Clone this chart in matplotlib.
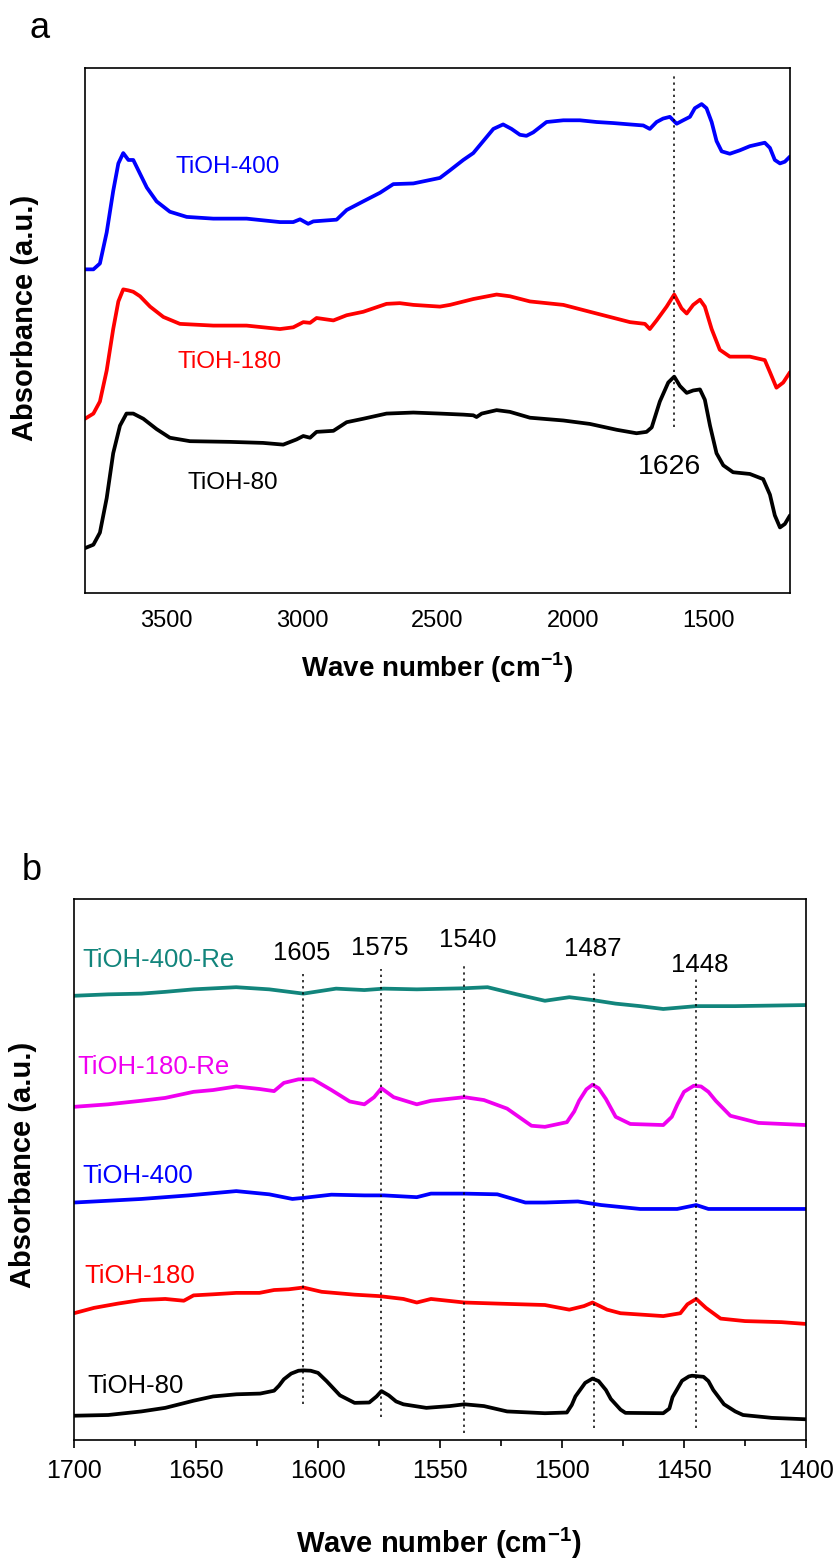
import numpy as np
import matplotlib
matplotlib.use("Agg")
import matplotlib.pyplot as plt
from matplotlib.ticker import MultipleLocator

plt.rcParams['font.family'] = ['Liberation Sans', 'DejaVu Sans']

W, H = 836, 1562

# ---------------- Panel a data (wave number, absorbance a.u.) ----------------
a_x_blue = [3800, 3769, 3745, 3720, 3696, 3677, 3659, 3640, 3622, 3597, 3572, 3536, 3487, 3425,
            3327, 3204, 3081, 3032, 3007, 2977, 2958, 2872, 2835, 2774, 2712, 2663, 2589, 2491,
            2454, 2405, 2368, 2331, 2294, 2258, 2227, 2196, 2172, 2147, 2098, 2036, 1975, 1913,
            1852, 1790, 1741, 1717, 1692, 1668, 1643, 1618, 1594, 1569, 1551, 1526, 1508, 1489,
            1471, 1452, 1422, 1385, 1348, 1293, 1274, 1256, 1237, 1219, 1200]
a_y_blue = [9.38, 9.38, 9.55, 10.45, 11.65, 12.45, 12.75, 12.55, 12.55, 12.15, 11.75, 11.35, 11.05, 10.90,
            10.85, 10.85, 10.75, 10.75, 10.83, 10.70, 10.77, 10.82, 11.10, 11.35, 11.60, 11.85, 11.87, 12.03,
            12.25, 12.55, 12.75, 13.10, 13.45, 13.58, 13.45, 13.28, 13.25, 13.35, 13.65, 13.70, 13.70, 13.65,
            13.62, 13.58, 13.55, 13.45, 13.65, 13.75, 13.80, 13.60, 13.70, 13.80, 14.05, 14.17, 14.05, 13.65,
            13.10, 12.80, 12.73, 12.83, 12.95, 13.05, 12.90, 12.55, 12.45, 12.50, 12.65]

a_x_red = [3800, 3769, 3745, 3720, 3696, 3677, 3659, 3640, 3622, 3597, 3560, 3511, 3450, 3327,
           3204, 3081, 3032, 2995, 2970, 2946, 2884, 2835, 2774, 2688, 2639, 2589, 2491,
           2454, 2368, 2282, 2233, 2159, 2036, 1938, 1864, 1790, 1735, 1717, 1692, 1655, 1627,
           1600, 1581, 1557, 1532, 1514, 1489, 1459, 1422, 1348, 1293, 1274, 1250, 1225, 1200]
a_y_red = [5.05, 5.20, 5.55, 6.45, 7.65, 8.45, 8.80, 8.77, 8.73, 8.60, 8.30, 8.00, 7.80, 7.75,
           7.75, 7.65, 7.70, 7.85, 7.83, 7.97, 7.90, 8.05, 8.15, 8.38, 8.40, 8.35, 8.30,
           8.35, 8.52, 8.65, 8.60, 8.45, 8.35, 8.15, 8.00, 7.85, 7.80, 7.65, 7.90, 8.30, 8.65,
           8.25, 8.10, 8.35, 8.50, 8.30, 7.65, 7.05, 6.85, 6.85, 6.75, 6.40, 5.95, 6.10, 6.40]

a_x_black = [3800, 3769, 3745, 3720, 3696, 3671, 3647, 3622, 3585, 3536, 3487, 3413, 3265, 3143,
             3069, 3020, 2995, 2970, 2946, 2884, 2835, 2774, 2688, 2589, 2491,
             2405, 2368, 2356, 2337, 2282, 2233, 2159, 2036, 1938, 1839, 1766, 1729, 1710, 1680,
             1649, 1627, 1606, 1581, 1557, 1532, 1514, 1495, 1471, 1446, 1410, 1348, 1299, 1274,
             1256, 1237, 1219, 1200]
a_y_black = [1.30, 1.40, 1.75, 2.75, 4.05, 4.85, 5.20, 5.20, 5.05, 4.75, 4.50, 4.40, 4.38, 4.35,
             4.30, 4.45, 4.55, 4.50, 4.67, 4.70, 4.95, 5.05, 5.20, 5.23, 5.20,
             5.17, 5.15, 5.10, 5.20, 5.30, 5.25, 5.08, 5.00, 4.90, 4.73, 4.63, 4.67, 4.80, 5.55,
             6.10, 6.27, 6.00, 5.80, 5.87, 5.90, 5.60, 4.85, 4.05, 3.70, 3.50, 3.45, 3.30, 2.85,
             2.25, 1.90, 2.00, 2.25]

a_labels = ["TiOH-400", "TiOH-180", "TiOH-80"]
a_peak = 1626
a_ticks = [3500, 3000, 2500, 2000, 1500]

# ---------------- Panel b data ----------------
b_x_80 = [1700, 1686, 1672.4, 1662.6, 1651, 1643, 1633.4, 1623.7, 1618, 1616, 1614, 1611, 1608, 1606,
          1603, 1600, 1596.5, 1591, 1585, 1579, 1576, 1574, 1571, 1568, 1565, 1555.6, 1546, 1540,
          1532, 1522.5, 1507, 1498, 1496, 1494.5, 1490.5, 1487.5, 1485, 1482, 1480, 1476, 1474,
          1458.5, 1456, 1454.7, 1450.8, 1448, 1446.7, 1442, 1440, 1438, 1433.6, 1429, 1425.8,
          1414, 1400]
b_y_80 = [0.68, 0.70, 0.80, 0.90, 1.10, 1.22, 1.28, 1.30, 1.38, 1.52, 1.70, 1.86, 1.94, 1.95,
          1.94, 1.88, 1.65, 1.25, 1.04, 1.05, 1.22, 1.37, 1.25, 1.08, 1.00, 0.90, 0.95, 1.00,
          0.95, 0.80, 0.75, 0.77, 0.98, 1.22, 1.60, 1.72, 1.65, 1.40, 1.15, 0.85, 0.76,
          0.75, 0.88, 1.20, 1.66, 1.78, 1.80, 1.77, 1.65, 1.40, 1.00, 0.80, 0.70,
          0.62, 0.58]

b_x_180 = [1700, 1691.8, 1682, 1672.4, 1662.6, 1655, 1651, 1643, 1633.5, 1624, 1618, 1612, 1606, 1598.5,
           1585, 1575, 1565, 1559.5, 1553.7, 1540, 1526.5, 1507, 1497, 1491, 1487.5, 1481.5, 1476,
           1458.5, 1451.5, 1448.6, 1445, 1441, 1435, 1425, 1410, 1400]
b_y_180 = [3.55, 3.70, 3.82, 3.92, 3.95, 3.90, 4.05, 4.08, 4.12, 4.12, 4.20, 4.22, 4.27, 4.15,
           4.07, 4.03, 3.95, 3.85, 3.95, 3.85, 3.82, 3.78, 3.65, 3.75, 3.85, 3.65, 3.55,
           3.47, 3.55, 3.80, 3.95, 3.70, 3.40, 3.33, 3.30, 3.25]

b_x_400 = [1700, 1686, 1672.4, 1653, 1633.5, 1620, 1610.5, 1606, 1594.5, 1581, 1573, 1559.5, 1553.7,
           1540, 1526.5, 1515, 1507, 1493.5, 1484, 1468, 1452.8, 1445, 1440, 1419.5, 1400]
b_y_400 = [6.65, 6.70, 6.75, 6.85, 6.97, 6.88, 6.75, 6.78, 6.87, 6.85, 6.85, 6.80, 6.90,
           6.90, 6.88, 6.65, 6.65, 6.68, 6.58, 6.47, 6.47, 6.58, 6.47, 6.47, 6.47]

b_x_180re = [1700, 1686, 1672.4, 1662.6, 1651, 1643, 1633.5, 1624, 1618, 1614, 1608, 1602, 1594.5,
             1587, 1581, 1577, 1574, 1569, 1559.5, 1553.7, 1540, 1532, 1522.5, 1512.5, 1507, 1498,
             1495, 1493, 1490, 1487.5, 1485, 1482, 1478, 1472, 1458.5, 1455, 1452.7, 1450,
             1446, 1443, 1440, 1437, 1431, 1419.5, 1400]
b_y_180re = [9.33, 9.40, 9.50, 9.58, 9.75, 9.80, 9.90, 9.83, 9.77, 10.00, 10.10, 10.10, 9.80,
             9.48, 9.40, 9.60, 9.85, 9.60, 9.40, 9.50, 9.60, 9.52, 9.28, 8.80, 8.77, 8.90,
             9.20, 9.50, 9.82, 9.95, 9.85, 9.55, 9.05, 8.85, 8.82, 9.05, 9.40, 9.75,
             9.92, 9.90, 9.75, 9.50, 9.08, 8.88, 8.82]

b_x_400re = [1700, 1686, 1672.4, 1662.6, 1651, 1633.5, 1620, 1606, 1592.6, 1581, 1573, 1559.5, 1540,
             1530.5, 1518.5, 1507, 1497, 1487.5, 1478, 1468, 1458.5, 1445, 1429, 1400]
b_y_400re = [12.44, 12.48, 12.50, 12.55, 12.62, 12.68, 12.62, 12.50, 12.64, 12.60, 12.64, 12.62, 12.65,
             12.68, 12.48, 12.30, 12.40, 12.32, 12.22, 12.15, 12.07, 12.15, 12.15, 12.18]

b_labels = ["TiOH-400-Re", "TiOH-180-Re", "TiOH-400", "TiOH-180", "TiOH-80"]
b_peaks = ["1605", "1575", "1540", "1487", "1448"]
b_peak_lines = [1606, 1574, 1540, 1487, 1445]
b_line_top = [13.05, 13.18, 13.35, 13.10, 12.90]
b_line_bot = [1.00, 0.65, 0.20, 0.35, 0.35]
b_ticks = [1700, 1650, 1600, 1550, 1500, 1450, 1400]

BLUE, RED, BLACK, MAG, TEAL = '#0000FF', '#FF0000', '#000000', '#F000F0', '#12857C'


def fx(px):
    return px / W


def fy(py):
    return 1 - py / H


fig = plt.figure(figsize=(W / 100, H / 100), dpi=100)
lw = 2.7
kw = dict(lw=lw, solid_joinstyle='round', solid_capstyle='round')

# ---------------- Panel a ----------------
axa = fig.add_axes([fx(85), fy(593), (790 - 85) / W, (593 - 67.5) / H])
axa.plot(a_x_black, a_y_black, color=BLACK, **kw)
axa.plot(a_x_red, a_y_red, color=RED, **kw)
axa.plot(a_x_blue, a_y_blue, color=BLUE, **kw)
axa.plot([a_peak, a_peak], [4.80, 15.0], color='black', lw=1.1, linestyle=(0, (1.5, 2.5)))
axa.set_xlim(3800, 1200)
axa.set_ylim(0, 15.23)
axa.set_xticks(a_ticks)
axa.set_xticklabels([str(t) for t in a_ticks])
axa.set_yticks([])
axa.tick_params(axis='x', length=0, pad=12, labelsize=17)
for s in axa.spines.values():
    s.set_linewidth(1.2)

fig.text(fx(175), fy(167), a_labels[0], color=BLUE, fontsize=17.5, va='center', ha='left')
fig.text(fx(177), fy(362), a_labels[1], color=RED, fontsize=17.5, va='center', ha='left')
fig.text(fx(187), fy(483), a_labels[2], color=BLACK, fontsize=17.5, va='center', ha='left')
fig.text(fx(670), fy(467), str(a_peak), color=BLACK, fontsize=20.5, va='center', ha='center')
fig.text(fx(437), fy(668), 'Wave number (cm$^{\\mathregular{-1}}$)', fontsize=20, fontweight='bold',
         ha='center', va='center')
fig.text(fx(25), fy(318), 'Absorbance (a.u.)', fontsize=21, fontweight='bold', rotation=90,
         ha='center', va='center')
fig.text(fx(40), fy(28), 'a', fontsize=26, ha='center', va='center')

# ---------------- Panel b ----------------
axb = fig.add_axes([fx(74), fy(1440), (806 - 74) / W, (1440 - 899) / H])
axb.plot(b_x_80, b_y_80, color=BLACK, **kw)
axb.plot(b_x_180, b_y_180, color=RED, **kw)
axb.plot(b_x_400, b_y_400, color=BLUE, **kw)
axb.plot(b_x_180re, b_y_180re, color=MAG, **kw)
axb.plot(b_x_400re, b_y_400re, color=TEAL, **kw)
for xv, yt, yb in zip(b_peak_lines, b_line_top, b_line_bot):
    axb.plot([xv, xv], [yb, yt], color='black', lw=1.1, linestyle=(0, (1.5, 2.5)))
axb.set_xlim(1700, 1400)
axb.set_ylim(0, 15.15)
axb.set_xticks(b_ticks)
axb.set_xticklabels([str(t) for t in b_ticks])
axb.xaxis.set_minor_locator(MultipleLocator(25))
axb.set_yticks([])
axb.tick_params(axis='x', which='major', direction='out', length=6, width=1.2, pad=8, labelsize=18)
axb.tick_params(axis='x', which='minor', direction='out', length=4, width=1.2)
for s in axb.spines.values():
    s.set_linewidth(1.2)

b_lab_pos = [(82, 960, TEAL), (77, 1067, MAG), (82, 1176, BLUE), (84, 1276, RED), (87, 1386, BLACK)]
for lab, (px, py, c) in zip(b_labels, b_lab_pos):
    fig.text(fx(px), fy(py), lab, color=c, fontsize=18.5, ha='left', va='center')

b_peak_pos = [(302, 953), (380, 948), (468, 940), (593, 949), (700, 965)]
for lab, (px, py) in zip(b_peaks, b_peak_pos):
    fig.text(fx(px), fy(py), lab, color='black', fontsize=18.5, ha='center', va='center')

fig.text(fx(439), fy(1543), 'Wave number (cm$^{\\mathregular{-1}}$)', fontsize=21, fontweight='bold',
         ha='center', va='center')
fig.text(fx(23), fy(1165), 'Absorbance (a.u.)', fontsize=21, fontweight='bold', rotation=90,
         ha='center', va='center')
fig.text(fx(32), fy(870), 'b', fontsize=26, ha='center', va='center')

fig.savefig('out.png', dpi=100)
